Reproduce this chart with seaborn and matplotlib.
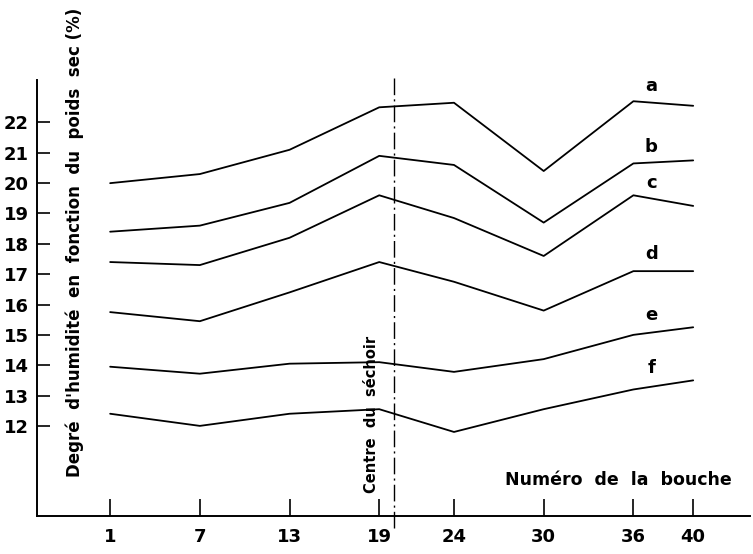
import pandas as pd
import numpy as np
import matplotlib
matplotlib.use("Agg")
import matplotlib.pyplot as plt
import seaborn as sns

sns.set_style("white")
plt.rcParams["font.family"] = ["DejaVu Sans"]
plt.rcParams["font.weight"] = "bold"
plt.rcParams["text.color"] = "black"
plt.rcParams["xtick.color"] = "black"
plt.rcParams["ytick.color"] = "black"

# numero de la bouche
bouches = [1, 7, 13, 19, 24, 30, 36, 40]

# degre d'humidite (%) for each curve
a = [20.0, 20.3, 21.1, 22.5, 22.65, 20.4, 22.7, 22.55]
b = [18.4, 18.6, 19.35, 20.9, 20.6, 18.7, 20.65, 20.75]
c = [17.4, 17.3, 18.2, 19.6, 18.85, 17.6, 19.6, 19.25]
d = [15.75, 15.45, 16.4, 17.4, 16.75, 15.8, 17.1, 17.1]
e = [13.95, 13.72, 14.05, 14.1, 13.78, 14.2, 15.0, 15.25]
f = [12.4, 12.0, 12.4, 12.55, 11.8, 12.55, 13.2, 13.5]

courbes = ["a", "b", "c", "d", "e", "f"]
y_ticks = [12, 13, 14, 15, 16, 17, 18, 19, 20, 21, 22]
centre = 20

#long form table
rows = []
for name, vals in zip(courbes, [a, b, c, d, e, f]):
    for x, y in zip(bouches, vals):
        rows.append({"bouche": x, "humidite": y, "courbe": name})
df = pd.DataFrame(rows)

fig = plt.figure(figsize=(7.53, 5.54), dpi=100)
ax = fig.add_axes([0.049, 0.0686, 0.947, 0.787])

sns.lineplot(data=df, x="bouche", y="humidite", hue="courbe",
             palette=["black"] * len(courbes), linewidth=1.3,
             legend=False, ax=ax)

# labels at the right end of the curves
label_y = [23.2, 21.2, 20.0, 17.65, 15.65, 13.9]
for name, ly in zip(courbes, label_y):
    ax.text(37.2, ly, name, fontsize=13, ha="center", va="center")

# centre du sechoir
ax.plot([centre, centre], [8.65, 23.55], color="black", linewidth=1.0,
        linestyle=(0, (12, 3, 1.5, 3)), clip_on=False)
ax.text(18.45, 9.8, "Centre  du  séchoir", rotation=90, fontsize=10.5,
        ha="center", va="bottom")

ax.text(35.0, 10.2, "Numéro  de  la  bouche", fontsize=12.5,
        ha="center", va="center")
ax.text(-1.35, 18.05, "Degré  d'humidité  en  fonction  du  poids  sec (%)",
        rotation=90, fontsize=12, ha="center", va="center")

ax.set_xlim(-3.9, 43.8)
ax.set_ylim(9.03, 23.4)
ax.set_xticks(bouches)
ax.set_yticks(y_ticks)
ax.set_xlabel("")
ax.set_ylabel("")

sns.despine(ax=ax)
for s in ["left", "bottom"]:
    ax.spines[s].set_linewidth(1.4)
    ax.spines[s].set_color("black")
ax.tick_params(axis="y", direction="in", length=9, width=1.2, pad=6,
               labelsize=13, left=True)
ax.tick_params(axis="x", direction="in", length=12, width=1.2, pad=9,
               labelsize=13, bottom=True)

fig.savefig("out.png", dpi=100)
